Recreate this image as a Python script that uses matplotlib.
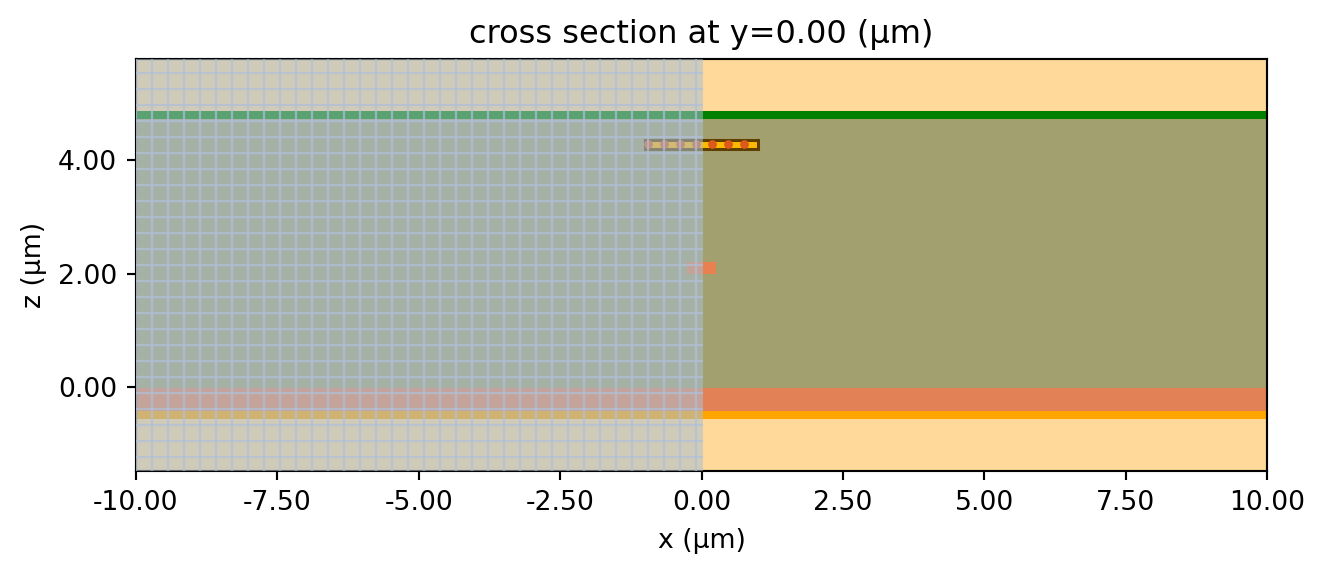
import numpy as np
import matplotlib
matplotlib.use('Agg')
import matplotlib.pyplot as plt
from matplotlib.patches import Rectangle
from matplotlib.ticker import FormatStrFormatter

# everything a bit smaller than the default sizes
scale = 0.96
plt.rcParams['font.size'] = 10 * scale
plt.rcParams['axes.linewidth'] = 0.8 * scale
plt.rcParams['xtick.major.size'] = 3.5 * scale
plt.rcParams['ytick.major.size'] = 3.5 * scale
plt.rcParams['xtick.major.width'] = 0.8 * scale
plt.rcParams['ytick.major.width'] = 0.8 * scale
plt.rcParams['xtick.major.pad'] = 3.5 * scale
plt.rcParams['ytick.major.pad'] = 3.5 * scale
plt.rcParams['axes.labelpad'] = 4 * scale
plt.rcParams['axes.titlepad'] = 6 * scale

# layers, bottom to top (z in um)
layer_z0 = [-1.48, -0.56, -0.42, -0.02, 4.72, 4.87]
layer_z1 = [-0.56, -0.42, -0.02, 4.72, 4.87, 5.78]
layer_col = ['#ffd999', '#ffa500', '#e28156', '#a3a070', '#008000', '#ffd999']

# waveguide and small block
wg_x = [-1.0, 1.0]
wg_z = [4.2, 4.36]
block_x = [-0.25, 0.25]
block_z = [2.0, 2.2]

# dots in the waveguide
dot_x = [-0.95, -0.67, -0.38, -0.10, 0.18, 0.46, 0.75]
dot_z = [4.29, 4.29, 4.29, 4.29, 4.29, 4.29, 4.29]

# mesh lines of the shaded half
mesh_x = [-10.00, -9.72, -9.43, -9.15, -8.87, -8.59, -8.30, -8.02, -7.74, -7.45,
          -7.17, -6.89, -6.61, -6.32, -6.04, -5.76, -5.47, -5.19, -4.91, -4.63,
          -4.34, -4.06, -3.78, -3.49, -3.21, -2.93, -2.65, -2.36, -2.08, -1.80,
          -1.51, -1.23, -0.95, -0.67, -0.38, -0.10]
mesh_z = [-1.23, -0.95, -0.67, -0.39, -0.10, 0.18, 0.46, 0.74, 1.02, 1.30,
          1.59, 1.87, 2.15, 2.43, 2.71, 2.99, 3.28, 3.56, 3.84, 4.12,
          4.40, 4.68, 4.97, 5.25, 5.53]
shade_x = [-10.0, 0.03]

x_ticks = [-10, -7.5, -5, -2.5, 0, 2.5, 5, 7.5, 10]
z_ticks = [0, 2, 4]

fig = plt.figure(figsize=(6.62, 2.87), dpi=200)
ax = fig.add_axes([136/1324, 1-471/574, (1267-136)/1324, (471-59)/574])

for z0, z1, c in zip(layer_z0, layer_z1, layer_col):
    ax.axhspan(z0, z1, color=c, lw=0, zorder=1)

ax.add_patch(Rectangle((block_x[0], block_z[0]), block_x[1]-block_x[0], block_z[1]-block_z[0],
                       fc='#e8804f', ec='none', zorder=2))
ax.add_patch(Rectangle((wg_x[0], wg_z[0]), wg_x[1]-wg_x[0], wg_z[1]-wg_z[0],
                       fc='#ffb900', ec='#5e3f00', lw=1.1, zorder=3))
ax.scatter(dot_x, dot_z, s=10, color='#dd5a1e', lw=0, zorder=4)

# shaded half with its mesh on top
ax.axvspan(shade_x[0], shade_x[1], color='#a9c0d5', alpha=0.54, lw=0, zorder=5)
ax.vlines(mesh_x, layer_z0[0], layer_z1[-1], color='#b0c0da', lw=0.8, alpha=0.7, zorder=6)
ax.hlines(mesh_z, shade_x[0], shade_x[1], color='#b0c0da', lw=0.8, alpha=0.7, zorder=6)

ax.set_xlim(-10, 10)
ax.set_ylim(-1.48, 5.78)
ax.set_xticks(x_ticks)
ax.set_yticks(z_ticks)
ax.xaxis.set_major_formatter(FormatStrFormatter('%.2f'))
ax.yaxis.set_major_formatter(FormatStrFormatter('%.2f'))
ax.set_xlabel('x (μm)', labelpad=4.6)
ax.set_ylabel('z (μm)')
ax.set_title('cross section at y=0.00 (μm)', fontsize=12 * scale)

fig.savefig('out.png', dpi=200)
